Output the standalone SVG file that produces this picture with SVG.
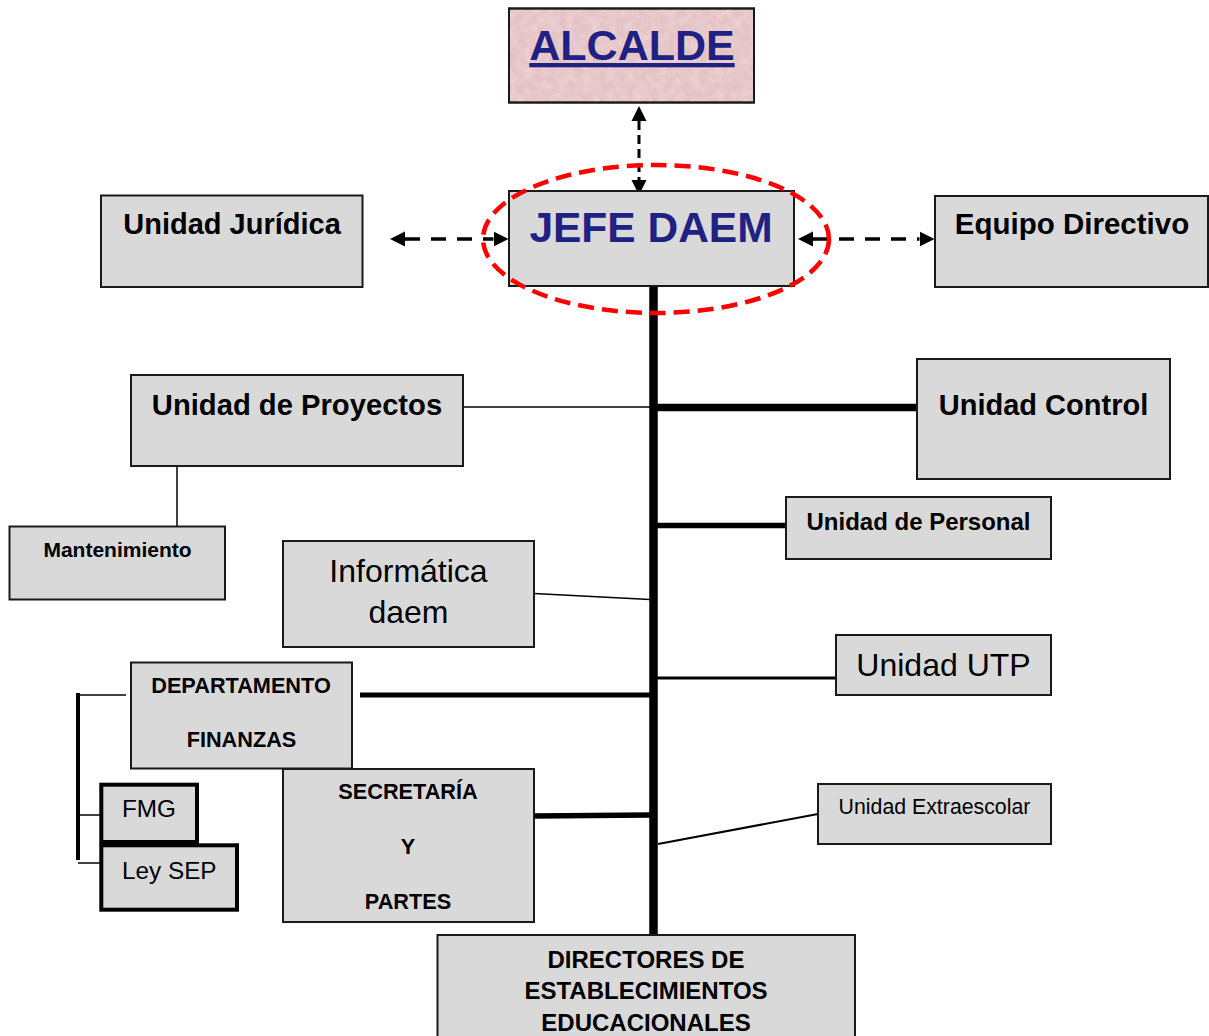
<svg xmlns="http://www.w3.org/2000/svg" width="1209" height="1036" viewBox="0 0 1209 1036">
<style>
.box{fill:#d9d9d9;stroke:#1a1a1a;stroke-width:2}
.thk{fill:#d9d9d9;stroke:#000;stroke-width:4}
.t{font-family:"Liberation Sans",Arial,sans-serif;fill:#000}
.b{font-weight:bold}
.c{text-anchor:middle}
.navy{fill:#1f2183;font-weight:bold}
.ln{stroke:#000;fill:none}
.dash{stroke:#000;stroke-width:3.5;stroke-dasharray:15 11;fill:none}
</style>
<defs>
<marker id="ah" markerUnits="userSpaceOnUse" markerWidth="16" markerHeight="16" refX="0" refY="7.5" orient="auto-start-reverse" viewBox="0 0 16 15">
<path d="M0,0 L15,7.5 L0,15 z" fill="#000"/>
</marker>
<filter id="tex" x="0" y="0" width="1" height="1">
<feTurbulence type="fractalNoise" baseFrequency="0.12" numOctaves="3" seed="4" result="n"/>
<feColorMatrix in="n" type="matrix" values="0 0 0 0 1  0 0 0 0 1  0 0 0 0 1  0.5 0 0 0 -0.15"/>
</filter>
</defs>

<g id="connectors">
<line class="ln" x1="653.5" y1="285" x2="653.5" y2="936" stroke-width="8.5"/>
<line class="ln" x1="463" y1="407" x2="650" y2="407" stroke-width="1.5"/>
<line class="ln" x1="177" y1="466" x2="177" y2="527" stroke-width="1.5"/>
<line class="ln" x1="657" y1="407.5" x2="922" y2="407.5" stroke-width="7.5"/>
<line class="ln" x1="657" y1="525.5" x2="786" y2="525.5" stroke-width="5.5"/>
<line class="ln" x1="534" y1="593.5" x2="650" y2="599.5" stroke-width="1.5"/>
<line class="ln" x1="657" y1="678" x2="836" y2="678" stroke-width="3"/>
<line class="ln" x1="360" y1="695" x2="650" y2="695" stroke-width="5"/>
<line class="ln" x1="534" y1="816" x2="650" y2="815" stroke-width="5.5"/>
<line class="ln" x1="818" y1="814" x2="658" y2="844" stroke-width="2"/>
<line class="ln" x1="78" y1="693" x2="78" y2="860" stroke-width="4"/>
<line class="ln" x1="78" y1="695" x2="126" y2="695" stroke-width="1.5"/>
<line class="ln" x1="78" y1="815" x2="101" y2="815" stroke-width="1.5"/>
<line class="ln" x1="78" y1="863" x2="101" y2="863" stroke-width="1.5"/>
<line class="ln" x1="639" y1="121" x2="639" y2="180" stroke-width="3" stroke-dasharray="9 5" marker-start="url(#ah)" marker-end="url(#ah)"/>
<line class="dash" x1="405" y1="239" x2="493.5" y2="239" marker-start="url(#ah)" marker-end="url(#ah)"/>
<line class="dash" x1="813" y1="239" x2="919.5" y2="239" marker-start="url(#ah)" marker-end="url(#ah)"/>
</g>

<g id="alcalde">
<rect x="509" y="8.5" width="245" height="94" fill="#e5c2c4" stroke="#1a1a1a" stroke-width="2"/>
<rect x="510" y="9.5" width="243" height="92" fill="#fff" filter="url(#tex)"/>
<rect x="509" y="8.5" width="245" height="94" fill="none" stroke="#1a1a1a" stroke-width="2"/>
<text class="t navy c" x="632" y="60" font-size="43" text-decoration="underline">ALCALDE</text>
</g>

<g id="jefe-daem">
<rect class="box" x="509" y="191" width="285" height="95"/>
<text class="t navy c" x="651" y="241.5" font-size="42.5">JEFE DAEM</text>
</g>

<g id="unidad-juridica">
<rect class="box" x="101" y="195.5" width="261.5" height="91.5"/>
<text class="t b c" x="232" y="234" font-size="29">Unidad Jurídica</text>
</g>

<g id="equipo-directivo">
<rect class="box" x="935" y="196" width="273" height="91"/>
<text class="t b c" x="1072" y="233.5" font-size="29.5">Equipo Directivo</text>
</g>

<g id="unidad-proyectos">
<rect class="box" x="131" y="375" width="332" height="91"/>
<text class="t b c" x="297" y="415" font-size="29.2">Unidad de Proyectos</text>
</g>

<g id="mantenimiento">
<rect class="box" x="9.5" y="526.5" width="215.5" height="73"/>
<text class="t b c" x="117.5" y="557" font-size="21">Mantenimiento</text>
</g>

<g id="unidad-control">
<rect class="box" x="917" y="359" width="253" height="120"/>
<text class="t b c" x="1043.5" y="414.5" font-size="29">Unidad Control</text>
</g>

<g id="unidad-personal">
<rect class="box" x="786" y="497" width="265" height="62"/>
<text class="t b c" x="918.5" y="530" font-size="24">Unidad de Personal</text>
</g>

<g id="informatica">
<rect class="box" x="283" y="541" width="251" height="106"/>
<text class="t c" x="408.5" y="582" font-size="32">Informática</text>
<text class="t c" x="408.5" y="623" font-size="32">daem</text>
</g>

<g id="unidad-utp">
<rect class="box" x="836" y="635" width="215" height="60"/>
<text class="t c" x="943.5" y="675.5" font-size="32">Unidad UTP</text>
</g>

<g id="finanzas">
<rect class="box" x="131" y="662.5" width="221" height="106"/>
<text class="t b c" x="241" y="692.5" font-size="21.7">DEPARTAMENTO</text>
<text class="t b c" x="241.5" y="747" font-size="21.7">FINANZAS</text>
</g>

<g id="fmg">
<rect class="thk" x="101.3" y="784.7" width="95.7" height="57.3"/>
<text class="t" x="122" y="817" font-size="24.3">FMG</text>
</g>

<g id="ley-sep">
<rect class="thk" x="101.3" y="845.3" width="135.7" height="64.4"/>
<text class="t" x="122" y="879" font-size="24.3">Ley SEP</text>
</g>

<g id="secretaria">
<rect class="box" x="283" y="769" width="251" height="153"/>
<text class="t b c" x="408" y="798.5" font-size="21.7">SECRETARÍA</text>
<text class="t b c" x="408" y="853.5" font-size="21.7">Y</text>
<text class="t b c" x="408" y="908.5" font-size="21.7">PARTES</text>
</g>

<g id="unidad-extraescolar">
<rect class="box" x="818" y="784" width="233" height="60"/>
<text class="t c" x="934.5" y="814" font-size="21.3">Unidad Extraescolar</text>
</g>

<g id="directores">
<rect class="box" x="437.5" y="935" width="417.5" height="112"/>
<text class="t b c" x="646" y="967.5" font-size="24">DIRECTORES DE</text>
<text class="t b c" x="646" y="999" font-size="24">ESTABLECIMIENTOS</text>
<text class="t b c" x="646" y="1030.5" font-size="24">EDUCACIONALES</text>
</g>

<g id="highlight">
<ellipse cx="656" cy="239" rx="173" ry="74" fill="none" stroke="#ff0000" stroke-width="4.5" stroke-dasharray="16 8"/>
</g>
</svg>
